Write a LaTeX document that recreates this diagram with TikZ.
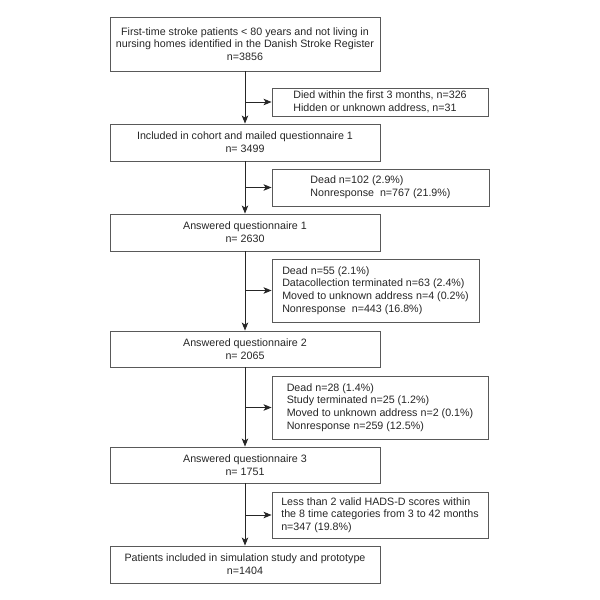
\documentclass[tikz,border=0pt]{standalone}
\usepackage{fontspec}
\setmainfont{Liberation Sans}
\usetikzlibrary{arrows.meta}
\begin{document}
\begin{tikzpicture}[x=1pt,y=-1pt,
  box/.style={draw=black!65, line width=0.9pt, inner sep=0pt, text=black!85,
    font=\fontsize{10.7}{12.7}\selectfont},
  mainbox/.style={box, minimum width=270pt, align=center},
  sidebox/.style={box, align=left},
  conn/.style={line width=0.9pt, black!85},
  arr/.style={conn, -{Stealth[length=8pt,width=6.5pt,inset=2pt]}}]
\useasboundingbox (0,0) rectangle (600,600);
\node[mainbox, minimum height=54pt] (m1) at (245,44) {First-time stroke patients < 80 years and not living in\\nursing homes identified in the Danish Stroke Register\\n=3856};
\node[sidebox, minimum width=216pt, minimum height=28pt] (s1) at (380,102) {Died within the first 3 months, n=326\\Hidden or unknown address, n=31};
\node[mainbox, minimum height=37pt] (m2) at (245,142.5) {Included in cohort and mailed questionnaire 1\\n= 3499};
\node[sidebox, minimum width=217pt, minimum height=37pt] (s2) at (380.5,187.5) {Dead n=102 (2.9\%)\\Nonresponse\ \ n=767 (21.9\%)};
\node[mainbox, minimum height=37pt] (m3) at (245,232.5) {Answered questionnaire 1\\n= 2630};
\node[sidebox, minimum width=207pt, minimum height=63pt] (s3) at (375.5,290.5) {Dead n=55 (2.1\%)\\Datacollection terminated n=63 (2.4\%)\\Moved to unknown address n=4 (0.2\%)\\Nonresponse\ \ n=443 (16.8\%)};
\node[mainbox, minimum height=36pt] (m4) at (245,349) {Answered questionnaire 2\\n= 2065};
\node[sidebox, minimum width=216pt, minimum height=63pt] (s4) at (380,407.5) {Dead n=28 (1.4\%)\\Study terminated n=25 (1.2\%)\\Moved to unknown address n=2 (0.1\%)\\Nonresponse n=259 (12.5\%)};
\node[mainbox, minimum height=36pt] (m5) at (245,465) {Answered questionnaire 3\\n= 1751};
\node[sidebox, minimum width=216pt, minimum height=46pt] (s5) at (380,515) {Less than 2 valid HADS-D scores within\\the 8 time categories from 3 to 42 months\\n=347 (19.8\%)};
\node[mainbox, minimum height=37pt] (m6) at (245,564.5) {Patients included in simulation study and prototype\\n=1404};
\foreach \a/\b/\s in {m1/m2/s1, m2/m3/s2, m3/m4/s3, m4/m5/s4, m5/m6/s5}{
  \draw[arr] (\a.south) -- (\b.north);
  \draw[arr] (\a.south |- \s.west) -- (\s.west);
}
\end{tikzpicture}
\end{document}
